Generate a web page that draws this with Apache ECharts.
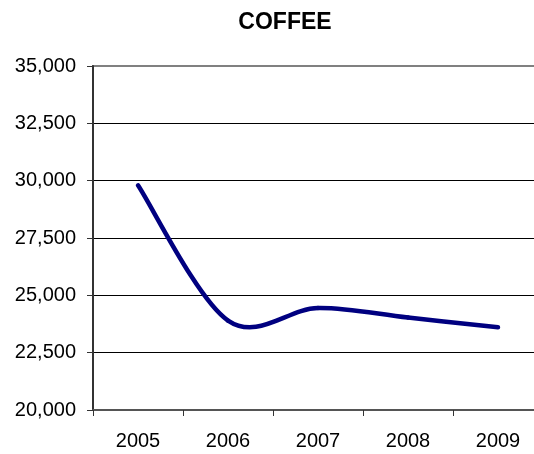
<!DOCTYPE html>
<html>
<head>
<meta charset="utf-8">
<script src="https://cdn.jsdelivr.net/npm/echarts@6/dist/echarts.min.js"></script>
<style>html,body{margin:0;padding:0;background:#fff;}#c{width:534px;height:454px;}</style>
</head>
<body>
<div id="c"></div>
<script>
var years = ['2005', '2006', '2007', '2008', '2009'];
var coffee = [29800, 23900, 24450, 24030, 23610];
var yMin = 20000, yMax = 35000, yStep = 2500;
var titleText = 'COFFEE';

var font = 'Liberation Sans, Arial, sans-serif';
var chart = echarts.init(document.getElementById('c'), null, {renderer: 'canvas'});

// Excel-style smoothed line: cubic Bezier segments through the data points
function renderSmooth(params, api) {
  var i = params.dataIndex;
  var n = coffee.length;
  if (i >= n - 1) return null;
  function p(k) {
    k = Math.max(0, Math.min(n - 1, k));
    return api.coord([k, coffee[k]]);
  }
  var p0 = p(i - 1), p1 = p(i), p2 = p(i + 1), p3 = p(i + 2);
  var t = 1 / 6;
  return {
    type: 'bezierCurve',
    shape: {
      x1: p1[0], y1: p1[1], x2: p2[0], y2: p2[1],
      cpx1: p1[0] + (p2[0] - p0[0]) * t, cpy1: p1[1] + (p2[1] - p0[1]) * t,
      cpx2: p2[0] - (p3[0] - p1[0]) * t, cpy2: p2[1] - (p3[1] - p1[1]) * t
    },
    style: {stroke: '#000080', lineWidth: 4.5, fill: 'none', lineCap: 'round'}
  };
}

chart.setOption({
  animation: false,
  backgroundColor: '#fff',
  title: {
    text: titleText, left: 285, top: 11, textAlign: 'center', padding: 0,
    textStyle: {fontFamily: font, fontSize: 23, fontWeight: 'bold', color: '#000'}
  },
  grid: {left: 93, right: -9, top: 66, bottom: 44, show: true, borderColor: '#808080', borderWidth: 2,
    backgroundColor: 'transparent', outerBoundsMode: 'none', containLabel: false},
  xAxis: {
    type: 'category', data: years, boundaryGap: true,
    axisLine: {lineStyle: {color: '#555', width: 2}},
    axisTick: {show: true, length: 6, lineStyle: {color: '#333', width: 1}},
    axisLabel: {margin: 21, fontFamily: font, fontSize: 20, color: '#000'},
    splitLine: {show: false}
  },
  yAxis: {
    type: 'value', min: yMin, max: yMax, interval: yStep,
    axisLine: {show: true, lineStyle: {color: '#333', width: 2}},
    axisTick: {show: true, length: 6, lineStyle: {color: '#333', width: 1}},
    axisLabel: {margin: 17, fontFamily: font, fontSize: 20, color: '#000',
      formatter: function (v) { return v.toLocaleString('en-US'); }},
    splitLine: {show: true, lineStyle: {color: ['#000', '#000', '#000', '#000', '#000', '#000', '#808080'], width: 1}}
  },
  series: [{
    type: 'custom',
    name: 'COFFEE',
    data: coffee.map(function (v, i) { return [i, v]; }),
    encode: {x: 0, y: 1},
    renderItem: renderSmooth,
    clip: false
  }]
});
</script>
</body>
</html>
